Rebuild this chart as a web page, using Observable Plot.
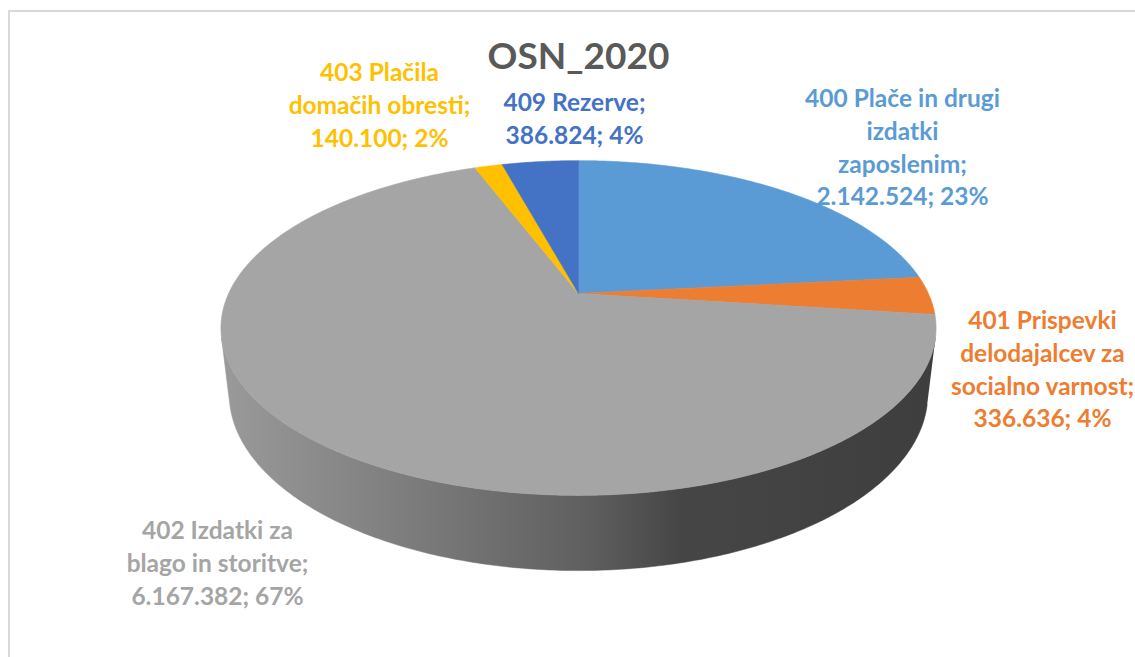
<!DOCTYPE html>
<html><head><meta charset="utf-8">
<script src="https://cdn.jsdelivr.net/npm/d3@7"></script>
<script src="https://cdn.jsdelivr.net/npm/@observablehq/plot@0.6"></script>
<style>
body{margin:0;background:#fff;overflow:hidden}
#chart{position:relative;width:1135px;height:657px;overflow:hidden}
#border{position:absolute;left:8px;top:10px;width:1150px;height:670px;border:2px solid #d9d9d9;pointer-events:none}
svg{display:block}
</style></head><body>
<div id="chart"><div id="border"></div></div>
<script>
// ---- data ----
const title = "OSN_2020";
const categories = ["400", "401", "402", "403", "409"];
const categoryNames = [
  "400 Plače in drugi\nizdatki\nzaposlenim;",
  "401 Prispevki\ndelodajalcev za\nsocialno varnost;",
  "402 Izdatki za\nblago in storitve;",
  "403 Plačila\ndomačih obresti;",
  "409 Rezerve;"
];
const values = [2142524, 336636, 6167382, 140100, 386824];
const colors = ["#5B9BD5", "#ED7D31", "#A5A5A5", "#FFC000", "#4472C4"];

// ---- layout (pixels) ----
const W = 1135, H = 657;
const cx = 578, cy = 293;              // pie apex on screen
const F = 1508, D = 4.31, elev = Math.asin(0.458), thick = 0.212;
const labelAnchor = [[902, 83.5], [1042, 305.5], [217, 515.5], [379, 57.5], [574, 87.5]];
const fontSize = 24.5;

const loc = d3.formatLocale({decimal: ",", thousands: ".", grouping: [3], currency: ["", ""]});
const fmt = loc.format(",d");
const total = d3.sum(values);

function proj(theta, z) {
  const u = Math.sin(theta), v = Math.cos(theta);
  const depth = D + v * Math.cos(elev) - z * Math.sin(elev);
  return [cx + F * u / depth, cy - F * (v * Math.sin(elev) + z * Math.cos(elev)) / depth];
}
function arc(a0, a1, z) {
  const n = Math.max(2, Math.ceil(Math.abs(a1 - a0) / 0.01));
  return d3.range(n + 1).map(i => proj(a0 + (a1 - a0) * i / n, z));
}

const arcs = d3.pie().sort(null).value(d => d)(values);

// top faces
const topRows = [];
arcs.forEach((a, i) => {
  const pts = [[cx, cy], ...arc(a.startAngle, a.endAngle, 0), [cx, cy]];
  pts.forEach(([x, y]) => topRows.push({cat: categories[i], x, y}));
});

// side walls (front, visible part)
const ts = Math.acos(-1 / (D * Math.cos(elev)));
const sideRows = [];
arcs.forEach((a, i) => {
  const lo = Math.max(a.startAngle, ts), hi = Math.min(a.endAngle, 2 * Math.PI - ts);
  if (lo < hi) {
    const pts = [...arc(lo, hi, 0), ...arc(hi, lo, -thick)];
    pts.forEach(([x, y]) => sideRows.push({cat: categories[i], x, y}));
  }
});

// shadow (bottom outline)
const shadowRows = arc(0, 2 * Math.PI, -thick).map(([x, y]) => ({x, y}));
// rim along front edge of top face
const rimRows = arc(ts, 2 * Math.PI - ts, 0).map(([x, y]) => ({x, y}));

const labels = categories.map((c, i) => ({
  cat: c,
  x: labelAnchor[i][0], y: labelAnchor[i][1],
  text: `${categoryNames[i]}\n${fmt(values[i])}; ${Math.round(values[i] / total * 100)}%`
}));

const leftX = proj(-ts, 0)[0], rightX = proj(ts, 0)[0];

const svg = Plot.plot({
  width: W, height: H, margin: 0,
  x: {domain: [0, W], range: [0, W], axis: null},
  y: {domain: [0, H], range: [0, H], axis: null},
  color: {domain: categories, range: colors},
  style: {background: "transparent", fontFamily: "Lato, 'Open Sans', sans-serif"},
  marks: [
    Plot.line(shadowRows, {x: "x", y: "y", fill: "#000", fillOpacity: 0.22, stroke: "none", dy: 5, ariaLabel: "shadow"}),
    Plot.line(sideRows, {x: "x", y: "y", z: "cat", fill: "url(#sideGrad)", stroke: "url(#sideGrad)", strokeWidth: 0.5}),
    Plot.line(topRows, {x: "x", y: "y", z: "cat", fill: "cat", stroke: "cat", strokeWidth: 0.6}),
    Plot.line(rimRows, {x: "x", y: "y", stroke: "url(#rimGrad)", strokeWidth: 5, dy: -2, ariaLabel: "rim"}),
    Plot.text(labels, {x: "x", y: "y", text: "text", fill: "cat", fontSize, fontWeight: "bold",
      textAnchor: "middle", lineAnchor: "top", lineHeight: 1.335}),
    Plot.text([title], {x: () => cx, y: () => 42, text: d => d, fill: "#595959", fontSize: 37,
      fontWeight: "bold", textAnchor: "middle", lineAnchor: "top"})
  ]
});

const defs = d3.select(svg).insert("defs", ":first-child");
const sg = defs.append("linearGradient").attr("id", "sideGrad").attr("gradientUnits", "userSpaceOnUse")
  .attr("x1", leftX).attr("x2", rightX).attr("y1", 0).attr("y2", 0);
[[0, "#9a9a9a"], [0.25, "#7e7e7e"], [0.52, "#5e5e5e"], [0.64, "#464646"], [1, "#3e3e3e"]]
  .forEach(([o, c]) => sg.append("stop").attr("offset", o).attr("stop-color", c));
const rg = defs.append("linearGradient").attr("id", "rimGrad").attr("gradientUnits", "userSpaceOnUse")
  .attr("x1", leftX).attr("x2", rightX).attr("y1", 0).attr("y2", 0);
[[0, "#ffffff", 0.6], [0.45, "#ffffff", 0.35], [0.6, "#000000", 0.05], [1, "#000000", 0.3]]
  .forEach(([o, c, op]) => rg.append("stop").attr("offset", o).attr("stop-color", c).attr("stop-opacity", op));
defs.append("filter").attr("id", "blurS").attr("x", "-20%").attr("y", "-20%").attr("width", "140%").attr("height", "140%")
  .append("feGaussianBlur").attr("stdDeviation", 6);
defs.append("filter").attr("id", "blurR").attr("x", "-10%").attr("y", "-10%").attr("width", "120%").attr("height", "120%")
  .append("feGaussianBlur").attr("stdDeviation", 1.5);
d3.select(svg).select("g[aria-label=shadow]").attr("filter", "url(#blurS)");
d3.select(svg).select("g[aria-label=rim]").attr("filter", "url(#blurR)");

document.getElementById("chart").prepend(svg);
</script>
</body></html>
